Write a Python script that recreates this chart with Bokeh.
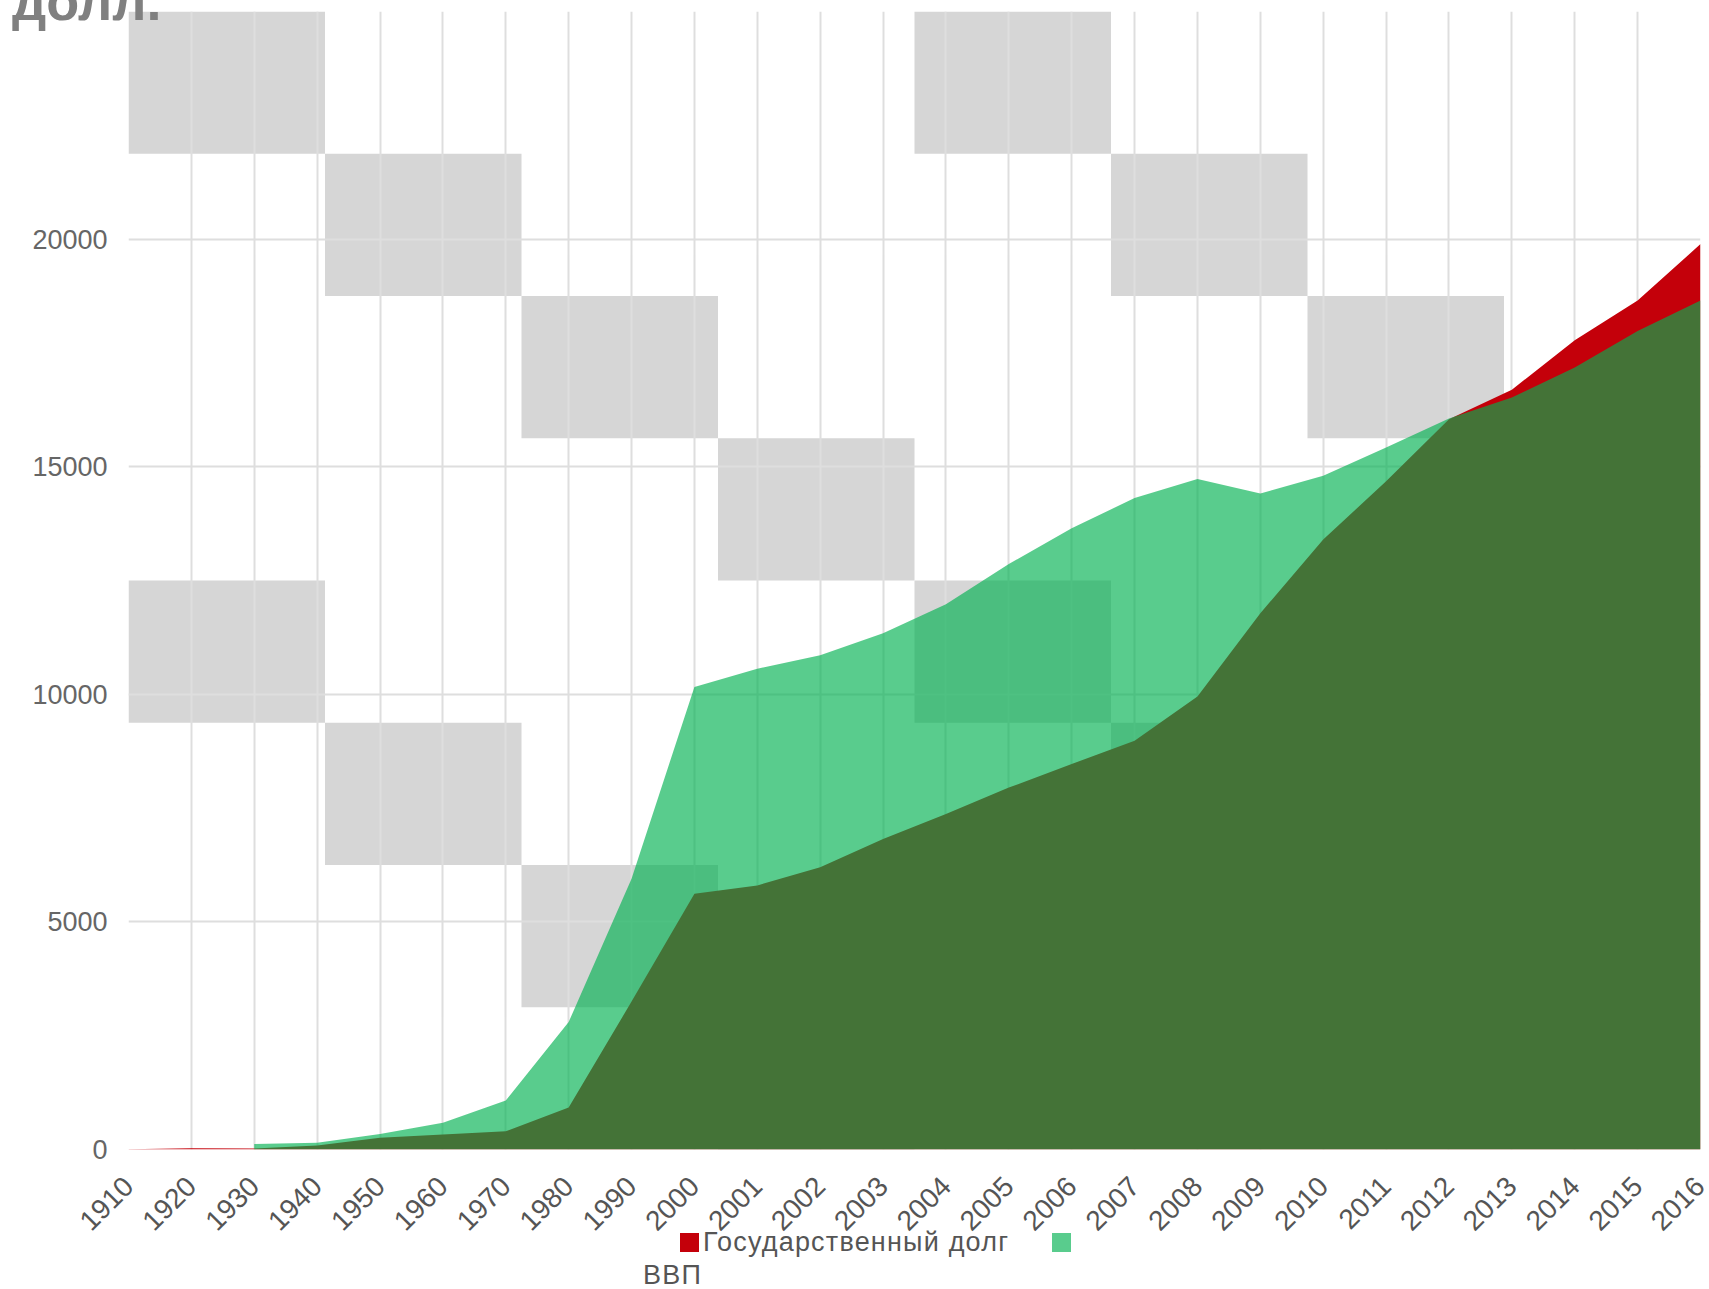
import math
from bokeh.plotting import figure
from bokeh.models import Range1d, FixedTicker, Div
from bokeh.layouts import column
from bokeh.embed import file_html
from bokeh.resources import INLINE

# ---- data ----
years = ["1910", "1920", "1930", "1940", "1950", "1960", "1970", "1980", "1990",
         "2000", "2001", "2002", "2003", "2004", "2005", "2006", "2007", "2008",
         "2009", "2010", "2011", "2012", "2013", "2014", "2015", "2016"]
debt = [5, 25, 20, 90, 260, 330, 400, 920, 3250, 5620, 5800, 6200, 6820, 7370,
        7950, 8470, 8980, 9950, 11780, 13400, 14680, 16040, 16690, 17780, 18650, 19890]
gdp = [None, None, 120, 150, 340, 590, 1075, 2800, 5950, 10160, 10560, 10860, 11340,
       11980, 12860, 13650, 14310, 14730, 14410, 14800, 15420, 16060, 16520, 17180,
       17980, 18650]
series_names = ["Государственный долг", "ВВП"]
y_tick_values = [0, 5000, 10000, 15000, 20000]
y_grid_values = [0, 5000, 10000, 15000, 20000, 25000]
y_max = 25000
unit_title = "долл."

# decorative background cells of the slide (column, row) on an 8 x 8 grid
bg_cells = [(0, 0), (4, 0), (1, 1), (5, 1), (2, 2), (6, 2), (3, 3),
            (0, 4), (4, 4), (1, 5), (5, 5), (2, 6), (6, 6), (3, 7)]

RED = "#c4000a"
GREEN = "#00b150"
GREEN_ALPHA = 0.65
GREEN_ON_WHITE = "#59cc8d"
FONT = "Liberation Sans"

n = len(years)
xs = list(range(n))
x_max = n - 1

W, H = 1706, 1287
p = figure(width=W, height=H, output_backend="svg", toolbar_location=None,
           x_range=Range1d(0, x_max), y_range=Range1d(0, y_max),
           min_border_left=128, min_border_right=W - 1700, min_border_top=11,
           min_border_bottom=H - 1149)
p.outline_line_color = None
p.background_fill_color = "white"
p.border_fill_color = "white"

# background pattern
cw = x_max / 8.0
ch = y_max / 8.0
p.quad(left=[c * cw for c, r in bg_cells], right=[(c + 1) * cw for c, r in bg_cells],
       top=[y_max - r * ch for c, r in bg_cells], bottom=[y_max - (r + 1) * ch for c, r in bg_cells],
       fill_color="#d6d6d6", line_color=None, level="image")

# areas
p.varea(x=xs, y1=[0] * n, y2=debt, fill_color=RED, fill_alpha=1.0)
gx = [x for x, v in zip(xs, gdp) if v is not None]
gy = [v for v in gdp if v is not None]
p.varea(x=gx, y1=[0] * len(gx), y2=gy, fill_color=GREEN, fill_alpha=GREEN_ALPHA)

# axes
p.xaxis.ticker = FixedTicker(ticks=xs)
p.xaxis.major_label_overrides = {i: y for i, y in enumerate(years)}
p.xaxis.major_label_orientation = math.pi / 4
p.xaxis.major_label_text_font_size = "28px"
p.xaxis.major_label_text_font = FONT
p.xaxis.major_label_text_color = "#555555"
p.xaxis.major_label_standoff = 26
p.xaxis.axis_line_color = None
p.xaxis.major_tick_line_color = None
p.xaxis.minor_tick_line_color = None

p.yaxis.ticker = FixedTicker(ticks=y_tick_values)
p.yaxis.major_label_text_font_size = "27px"
p.yaxis.major_label_text_font = FONT
p.yaxis.major_label_text_color = "#666666"
p.yaxis.major_label_standoff = 15
p.yaxis.axis_line_color = None
p.yaxis.major_tick_line_color = None
p.yaxis.minor_tick_line_color = None

p.xgrid.ticker = FixedTicker(ticks=xs)
p.ygrid.ticker = FixedTicker(ticks=y_grid_values)
for g in (p.xgrid, p.ygrid):
    g.grid_line_color = "#dedede"
    g.grid_line_width = 2

# ---- overlay (unit title and legend) as HTML laid over the plot ----
BASE = 0.8465  # top of a line box (line-height 1) -> baseline, in em


def txt(x, baseline, text, size, color="#555555", weight="normal", spacing=0.0):
    top = baseline - BASE * size
    return (f'<span style="position:absolute;left:{x}px;top:{top:.1f}px;white-space:nowrap;'
            f'font-family:\'{FONT}\';font-size:{size}px;line-height:1;font-weight:{weight};'
            f'letter-spacing:{spacing}px;color:{color};">{text}</span>')


def box(x, top, size, color):
    return (f'<span style="position:absolute;left:{x}px;top:{top}px;width:{size}px;'
            f'height:{size}px;background:{color};display:block;"></span>')


html = (f'<div style="position:relative;width:{W}px;height:{H}px;overflow:visible;">'
        + txt(12, 20, unit_title, 54, color="#808080", weight="bold")
        + box(680, 1233, 19, RED)
        + txt(703, 1252, series_names[0], 27, spacing=1.2)
        + box(1052, 1233, 19, GREEN_ON_WHITE)
        + txt(643, 1285, series_names[1], 27, spacing=1.2)
        + '</div>')

overlay = Div(text=html, width=W, height=H, margin=(-H, 0, 0, 0),
              styles={"position": "relative", "z-index": "10"})

layout = column(p, overlay, spacing=0)
open("out.html", "w").write(file_html(layout, INLINE))
